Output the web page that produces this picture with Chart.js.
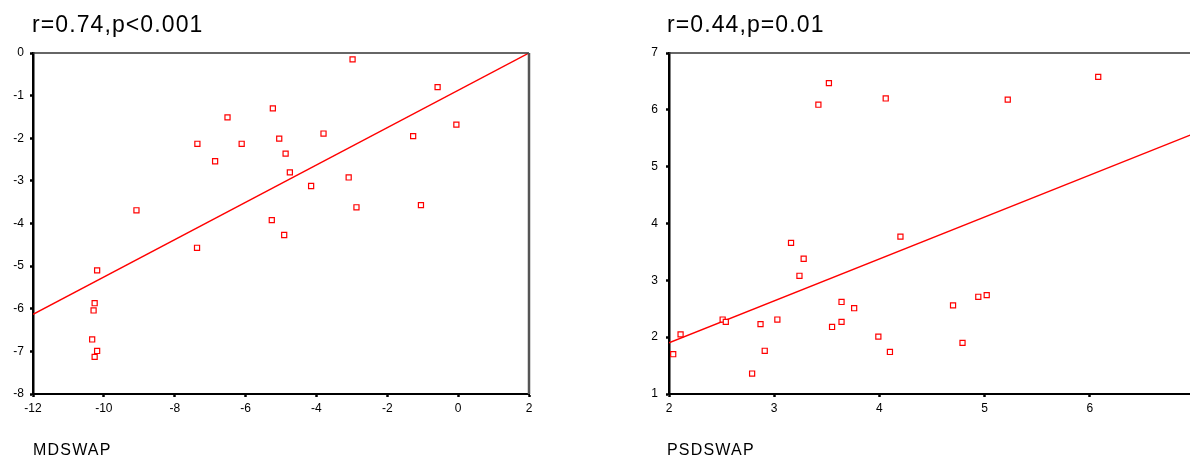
<!DOCTYPE html>
<html>
<head>
<meta charset="utf-8">
<script src="https://cdn.jsdelivr.net/npm/chart.js@4/dist/chart.umd.min.js"></script>
<style>
  html, body { margin: 0; padding: 0; background: #fff; overflow: hidden; }
  body { width: 1190px; height: 457px; position: relative; font-family: "Liberation Sans", Arial, sans-serif; }
  .box { position: absolute; top: 0; height: 457px; }
  .title { position: absolute; font-size: 23px; line-height: 23px; letter-spacing: 1.1px; color: #000; white-space: nowrap; }
  .axname { position: absolute; font-size: 16px; line-height: 16px; letter-spacing: 1.2px; color: #000; white-space: nowrap; }
</style>
</head>
<body>
<div class="box" style="left:0;width:560px"><canvas id="mdChart" width="560" height="457"></canvas></div>
<div class="box" style="left:620px;width:576px"><canvas id="psdChart" width="576" height="457"></canvas></div>
<div class="title" style="left:32px;top:13px">r=0.74,p&lt;0.001</div>
<div class="title" style="left:667px;top:13px">r=0.44,p=0.01</div>
<div class="axname" style="left:33px;top:442px">MDSWAP</div>
<div class="axname" style="left:667px;top:442px">PSDSWAP</div>
<script>
// MDSWAP panel (x, y)
const mdX = [-9.08, -7.36, -6.51, -6.86, -6.11, -5.23, -5.05, -4.87, -4.75, -5.26, -4.91,
             -2.98, -0.58, -3.80, -1.27, -0.05, -3.09, -4.15, -2.87, -1.05,
             -7.37, -10.19, -10.26, -10.29, -10.33, -10.19, -10.26];
const mdY = [-3.69, -2.13, -1.51, -2.54, -2.13, -1.30, -2.01, -2.36, -2.80, -3.92, -4.27,
             -0.15, -0.80, -1.89, -1.95, -1.68, -2.92, -3.12, -3.62, -3.57,
             -4.57, -5.10, -5.87, -6.04, -6.72, -6.99, -7.13];
const mdFitX = [-12, 2];
const mdFitY = [-6.13, 0.0];
const mdXTicks = [-12, -10, -8, -6, -4, -2, 0, 2];
const mdYTicks = [-8, -7, -6, -5, -4, -3, -2, -1, 0];

// PSDSWAP panel
const psdX = [3.52, 3.42, 4.06, 4.20, 5.22, 6.08,
              2.04, 2.11, 2.51, 2.54, 2.79, 2.87, 2.91, 3.03, 3.16, 3.24, 3.28,
              3.55, 3.64, 3.64, 3.76, 3.99, 4.10, 4.70, 4.79, 4.94, 5.02];
const psdY = [6.47, 6.09, 6.20, 3.77, 6.18, 6.58,
              1.70, 2.05, 2.31, 2.27, 1.36, 2.23, 1.76, 2.31, 3.66, 3.08, 3.38,
              2.18, 2.62, 2.27, 2.51, 2.01, 1.74, 2.56, 1.90, 2.71, 2.74];
const psdFitX = [2, 6.96];
const psdFitY = [1.90, 5.56];
const psdXTicks = [2, 3, 4, 5, 6];
const psdYTicks = [1, 2, 3, 4, 5, 6, 7];

Chart.defaults.font.family = '"Liberation Sans", Arial, sans-serif';
Chart.defaults.font.size = 12;
Chart.defaults.color = '#000';

const pairs = (xs, ys) => xs.map((x, i) => ({ x: x, y: ys[i] }));

// top/right frame of the plot area
const framePlugin = {
  id: 'frame',
  afterDraw(chart, args, opts) {
    const a = chart.chartArea, ctx = chart.ctx;
    ctx.save();
    ctx.strokeStyle = '#333';
    ctx.lineWidth = 1.5;
    ctx.beginPath();
    ctx.moveTo(a.left, a.top);
    ctx.lineTo(opts.right ? a.right : chart.width, a.top);
    ctx.stroke();
    if (opts.right) {
      ctx.strokeStyle = '#555';
      ctx.lineWidth = 2.5;
      ctx.beginPath();
      ctx.moveTo(a.right, a.top);
      ctx.lineTo(a.right, a.bottom);
      ctx.stroke();
    }
    ctx.restore();
  }
};

function makeChart(id, xs, ys, fx, fy, xTicks, yTicks, xr, yr, yWidth, yPad, padRight, frameRight) {
  return new Chart(document.getElementById(id), {
    type: 'scatter',
    data: {
      datasets: [{
        data: pairs(xs, ys),
        pointStyle: 'rect',
        pointRadius: 3.6,
        pointBorderWidth: 1.2,
        borderColor: '#ff0000',
        backgroundColor: '#fff'
      }, {
        type: 'line',
        data: pairs(fx, fy),
        borderColor: '#ff0000',
        borderWidth: 1.4,
        pointRadius: 0,
        fill: false
      }]
    },
    options: {
      responsive: false,
      animation: false,
      layout: { padding: { top: 53, right: padRight, bottom: 43, left: 0 } },
      plugins: { legend: { display: false }, tooltip: { enabled: false }, frame: { right: frameRight } },
      scales: {
        x: {
          type: 'linear', min: xr[0], max: xr[1],
          afterBuildTicks: s => { s.ticks = xTicks.map(v => ({ value: v })); },
          afterFit: s => { s.height = 20; },
          grid: { drawOnChartArea: false, tickLength: 3, tickWidth: 2.5, tickColor: '#000' },
          border: { display: true, color: '#000', width: 2 },
          ticks: { padding: 4, maxRotation: 0 }
        },
        y: {
          type: 'linear', min: yr[0], max: yr[1],
          afterBuildTicks: s => { s.ticks = yTicks.map(v => ({ value: v })); },
          afterFit: s => { s.width = yWidth; },
          grid: { drawOnChartArea: false, tickLength: 3, tickWidth: 2.5, tickColor: '#000' },
          border: { display: true, color: '#000', width: 2.5 },
          ticks: { padding: yPad }
        }
      }
    },
    plugins: [framePlugin]
  });
}

makeChart('mdChart', mdX, mdY, mdFitX, mdFitY, mdXTicks, mdYTicks, [-12, 2], [-8, 0], 33, 6, 31, true);
makeChart('psdChart', psdX, psdY, psdFitX, psdFitY, psdXTicks, psdYTicks, [2, 6.96], [1, 7], 49, 8, 0, false);
</script>
</body>
</html>
